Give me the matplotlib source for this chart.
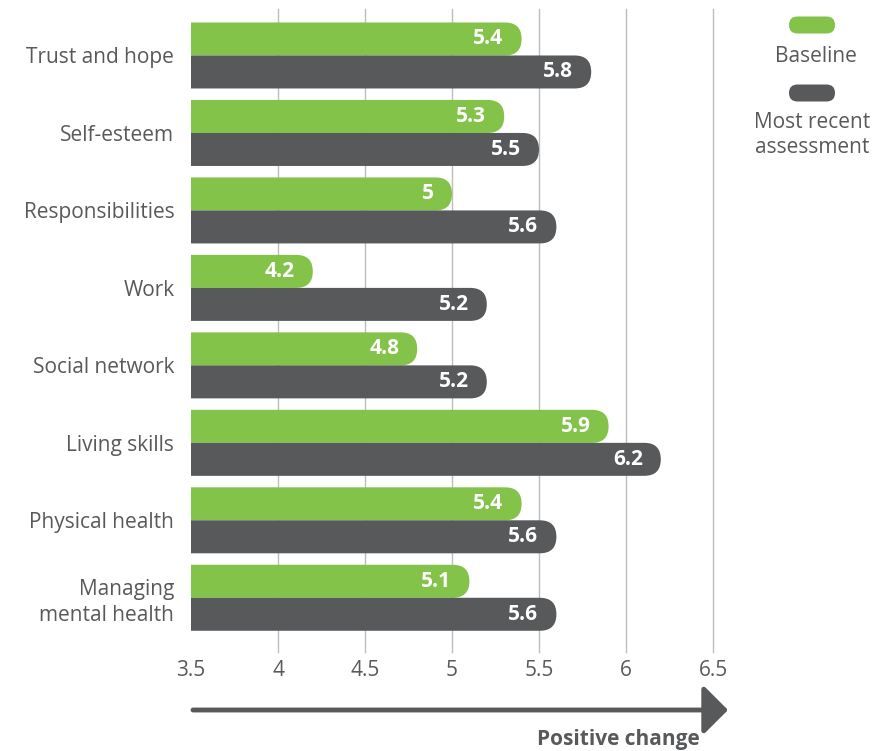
import matplotlib.pyplot as plt
from matplotlib.patches import FancyBboxPatch

categories = ["Trust and hope", "Self-esteem", "Responsibilities", "Work",
              "Social network", "Living skills", "Physical health",
              "Managing\nmental health"]
baseline = [5.4, 5.3, 5.0, 4.2, 4.8, 5.9, 5.4, 5.1]
recent = [5.8, 5.5, 5.6, 5.2, 5.2, 6.2, 5.6, 5.6]
xticks = [3.5, 4, 4.5, 5, 5.5, 6, 6.5]
xticklabels = ["3.5", "4", "4.5", "5", "5.5", "6", "6.5"]

green = "#84c34a"
dark = "#58595b"
txt = "#58595b"
plt.rcParams['font.family'] = ['Open Sans', 'DejaVu Sans']

W, H = 895, 751
fig = plt.figure(figsize=(W / 100, H / 100), dpi=100)
ax = fig.add_axes([191 / W, 1 - 652 / H, (713 - 191) / W, (652 - 9) / H])
ax.set_xlim(3.5, 6.5)
ax.set_ylim(7.70, -0.60)

bh = 0.426
ypos = list(range(len(categories)))
start = 3.2
b1 = ax.barh([y - bh / 2 for y in ypos], [v - start for v in baseline], bh,
             left=start, color=green)
b2 = ax.barh([y + bh / 2 for y in ypos], [v - start for v in recent], bh,
             left=start, color=dark)

# pixels per data unit, for rounding the ends
p0 = ax.transData.transform((0, 0))
p1 = ax.transData.transform((1, 1))
pxx = abs(p1[0] - p0[0])
pxy = abs(p1[1] - p0[1])
r_px = bh / 2 * pxy
r_x = r_px / pxx
asp = (bh / 2) / r_x

for bars, vals in ((b1, baseline), (b2, recent)):
    for p, v in zip(bars.patches, vals):
        x, y, w, h = p.get_x(), p.get_y(), p.get_width(), p.get_height()
        fc = p.get_facecolor()
        p.set_visible(False)
        fb = FancyBboxPatch((x, y), w, h,
                            boxstyle=f"round,pad=0,rounding_size={r_x}",
                            mutation_aspect=asp, fc=fc, ec='none', zorder=2,
                            clip_on=True)
        ax.add_patch(fb)
        lab = f"{v:g}"
        ax.annotate(lab, (v, y + h / 2), xytext=(-13, 0), textcoords='offset points',
                    ha='right', va='center', color='white', fontsize=15,
                    fontweight='bold', zorder=3)

for t in xticks[1:]:
    ax.axvline(t, color='#bdbdbd', lw=1, zorder=0, clip_on=False, ymin=0, ymax=1)

ax.set_xticks(xticks)
ax.set_xticklabels(xticklabels, color=txt, fontsize=15)
ax.tick_params(axis='x', length=0, pad=6)
ax.set_yticks(ypos)
ax.set_yticklabels(categories, color=txt, fontsize=15, linespacing=1.3)
ax.tick_params(axis='y', length=0, pad=12)
for s in ax.spines.values():
    s.set_visible(False)

# legend
def pill(cx, cy, color):
    w, h = 46, 17
    fig.add_artist(FancyBboxPatch(((cx - w / 2) / W, 1 - (cy + h / 2) / H), w / W, h / H,
                                  boxstyle=f"round,pad=0,rounding_size={h / 2 / W}",
                                  mutation_aspect=W / H, fc=color, ec='none',
                                  transform=fig.transFigure))

pill(812, 25, green)
fig.text(816 / W, 1 - 56 / H, "Baseline", ha='center', va='center', color=txt, fontsize=15)
pill(812, 93, dark)
fig.text(812 / W, 1 - 135 / H, "Most recent\nassessment", ha='center', va='center',
         color=txt, fontsize=15, linespacing=1.3)

# positive change arrow
ax.annotate('', xy=(728 / W, 1 - 710 / H), xytext=(193 / W, 1 - 710 / H),
            xycoords='figure fraction', textcoords='figure fraction',
            arrowprops=dict(arrowstyle='-|>,head_length=0.6,head_width=0.6',
                            lw=3.5, color=dark, mutation_scale=25,
                            shrinkA=0, shrinkB=0))
fig.text(700 / W, 1 - 739 / H, "Positive change", ha='right', va='center',
         color=txt, fontsize=15, fontweight='bold')

fig.savefig("out.png", dpi=100)
